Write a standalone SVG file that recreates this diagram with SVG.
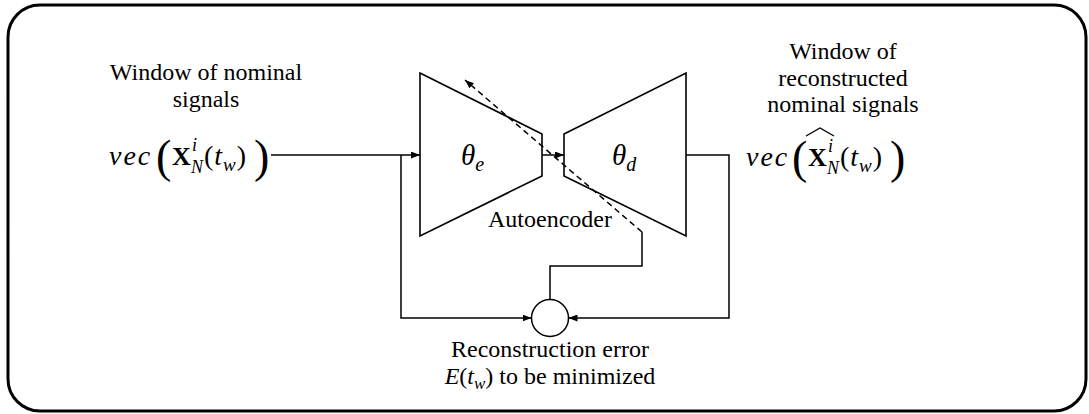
<svg xmlns="http://www.w3.org/2000/svg" width="1089" height="414" viewBox="0 0 1089 414">
<defs>
<style>
.t{font-family:"Liberation Serif","Times New Roman",serif;font-size:24px;fill:#000}
.m{font-family:"Liberation Serif","Times New Roman",serif;fill:#000}
.it{font-style:italic}
.b{font-weight:bold}
.ln{fill:none;stroke:#000;stroke-width:1.5}
.sh{fill:none;stroke:#000;stroke-width:1.6}
</style>
<marker id="ah" viewBox="0 0 10 10" refX="10" refY="5" markerWidth="9" markerHeight="7" markerUnits="userSpaceOnUse" orient="auto" preserveAspectRatio="none"><path d="M0,0 L10,5 L0,10 z" fill="#000"/></marker>
</defs>
<rect x="8" y="5" width="1078" height="406" rx="32" ry="32" fill="#fff" stroke="#000" stroke-width="3"/>

<g id="encoder">
<polygon class="sh" points="420,73 542,134 542,176 420,236"/>
<text class="m it" x="461" y="165" font-size="29">θ<tspan font-size="20" dy="6">e</tspan></text>
</g>
<g id="decoder">
<polygon class="sh" points="564,134 686,73 686,236 564,176"/>
<text class="m it" x="612" y="165" font-size="29">θ<tspan font-size="20" dy="6">d</tspan></text>
</g>
<g id="autoencoder-label">
<text class="t" x="550" y="227" text-anchor="middle">Autoencoder</text>
</g>

<g id="connectors">
<line class="ln" x1="271" y1="155" x2="420" y2="155" marker-end="url(#ah)"/>
<path class="ln" d="M401,155 V318 H531.5" marker-end="url(#ah)"/>
<line class="ln" x1="542" y1="155" x2="564" y2="155" marker-end="url(#ah)"/>
<path class="ln" d="M686,155 H729 V318 H568.5" marker-end="url(#ah)"/>
<line class="ln" x1="642" y1="232" x2="465" y2="80" stroke-dasharray="6,4" marker-end="url(#ah)"/>
<path class="ln" d="M642,232 V266 H550 V299.5"/>
</g>

<g id="error">
<circle cx="550" cy="318" r="18.5" fill="#fff" stroke="#000" stroke-width="1.5"/>
<text class="t" x="550" y="357" text-anchor="middle">Reconstruction error</text>
<text class="t" x="550" y="384" text-anchor="middle"><tspan class="it">E</tspan>(<tspan class="it">t</tspan><tspan class="it" font-size="17" dy="5">w</tspan><tspan dy="-5">) to be minimized</tspan></text>
</g>

<g id="input">
<text class="t" x="206" y="80" text-anchor="middle">Window of nominal</text>
<text class="t" x="206" y="107" text-anchor="middle">signals</text>
<text class="m it" x="109" y="165" font-size="28" letter-spacing="2">vec</text>
<text class="m" x="156" y="172" font-size="46">(</text>
<text class="m b" x="172" y="165" font-size="26">X</text>
<text class="m it" x="192" y="151" font-size="18">i</text>
<text class="m it" x="191" y="173" font-size="18">N</text>
<text class="m" x="204" y="165" font-size="28" letter-spacing="1">(<tspan class="it">t</tspan><tspan class="it" font-size="19" dy="6">w</tspan><tspan dy="-6">)</tspan></text>
<text class="m" x="254" y="172" font-size="46">)</text>
</g>

<g id="output">
<text class="t" x="843" y="59" text-anchor="middle">Window of</text>
<text class="t" x="843" y="86" text-anchor="middle">reconstructed</text>
<text class="t" x="843" y="112" text-anchor="middle">nominal signals</text>
<text class="m it" x="746" y="166" font-size="28" letter-spacing="2">vec</text>
<text class="m" x="792" y="173" font-size="46">(</text>
<polyline points="806,136 820,128 834,136" fill="none" stroke="#000" stroke-width="1.4"/>
<text class="m b" x="808" y="166" font-size="26">X</text>
<text class="m it" x="828" y="152" font-size="18">i</text>
<text class="m it" x="827" y="174" font-size="18">N</text>
<text class="m" x="840" y="166" font-size="28" letter-spacing="1">(<tspan class="it">t</tspan><tspan class="it" font-size="19" dy="6">w</tspan><tspan dy="-6">)</tspan></text>
<text class="m" x="890" y="173" font-size="46">)</text>
</g>
</svg>
